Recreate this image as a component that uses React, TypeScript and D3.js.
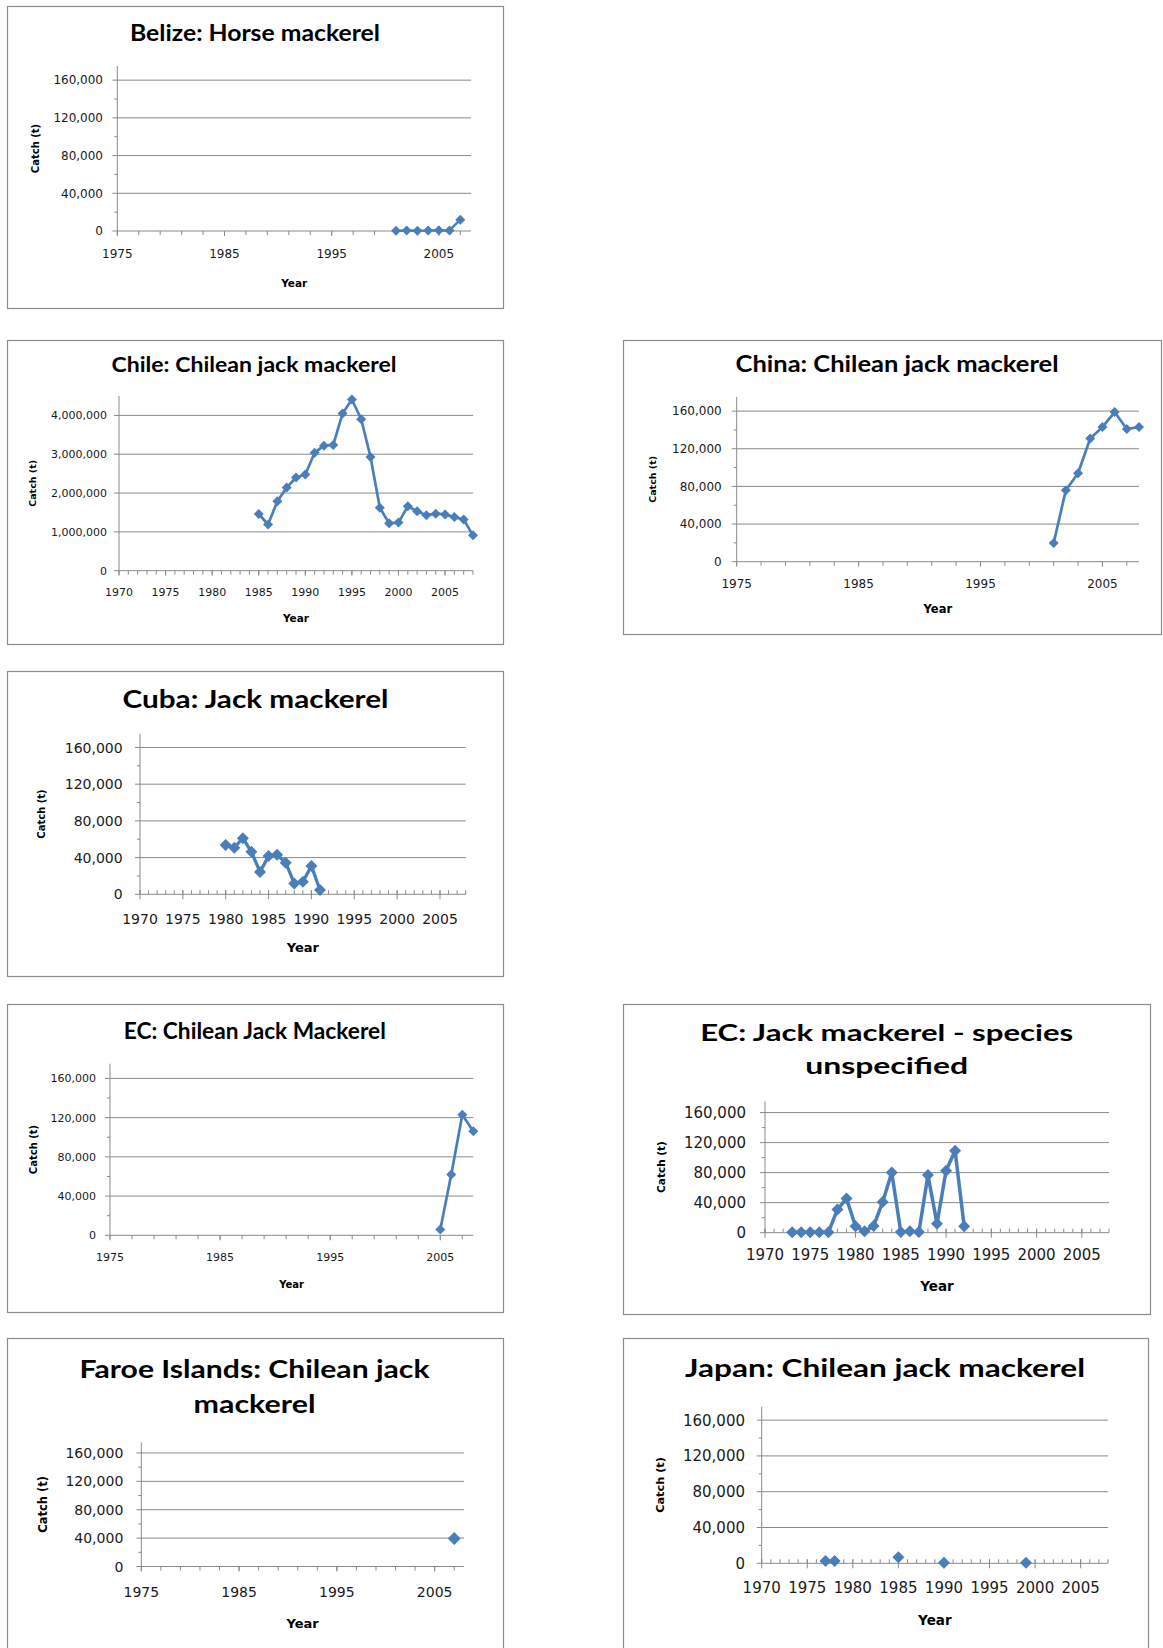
import React from 'react';
import * as d3 from 'd3';

// ---- data ----
const belizeYears = [2001, 2002, 2003, 2004, 2005, 2006, 2007];
const belizeCatch = [300, 400, 200, 400, 900, 600, 12000];

const chileYears = [1985, 1986, 1987, 1988, 1989, 1990, 1991, 1992, 1993, 1994, 1995, 1996,
  1997, 1998, 1999, 2000, 2001, 2002, 2003, 2004, 2005, 2006, 2007, 2008];
const chileCatch = [1460000, 1190000, 1790000, 2140000, 2400000, 2480000, 3040000, 3220000,
  3240000, 4050000, 4410000, 3900000, 2930000, 1620000, 1220000, 1240000, 1660000, 1530000,
  1430000, 1470000, 1450000, 1380000, 1320000, 910000];

const chinaYears = [2001, 2002, 2003, 2004, 2005, 2006, 2007, 2008];
const chinaCatch = [20000, 76000, 94000, 131000, 143000, 159000, 141000, 143000];

const cubaYears = [1980, 1981, 1982, 1983, 1984, 1985, 1986, 1987, 1988, 1989, 1990, 1991];
const cubaCatch = [53600, 50700, 61200, 46300, 24300, 41600, 43100, 34400, 11900, 13700, 30800, 4700];

const ecChileanYears = [2005, 2006, 2007, 2008];
const ecChileanCatch = [6000, 62000, 123000, 106000];

const ecUnspecYears = [1973, 1974, 1975, 1976, 1977, 1978, 1979, 1980, 1981, 1982, 1983, 1984,
  1985, 1986, 1987, 1988, 1989, 1990, 1991, 1992];
const ecUnspecCatch = [500, 500, 500, 500, 500, 30800, 45500, 8500, 1800, 8900, 41000, 80300,
  900, 1800, 900, 76700, 12000, 82500, 109200, 8500];

const faroeYears = [2007];
const faroeCatch = [39500];

const japanYears = [1977, 1978, 1985, 1990, 1999];
const japanCatch = [2600, 2600, 6700, 700, 700];

// tick values
const yTicks160k = [0, 40000, 80000, 120000, 160000];
const yTicksChile = [0, 1000000, 2000000, 3000000, 4000000];
const xTicks1975 = [1975, 1985, 1995, 2005];
const xTicks1970 = [1970, 1975, 1980, 1985, 1990, 1995, 2000, 2005];

const BLUE = '#4a7ebb';
const GRID = '#8a8a8a';
const fmt = d3.format(',');

const panels = [
  {
    key: 'belize', years: belizeYears, values: belizeCatch,
    title: ['Belize: Horse mackerel'], titleX: 255, titleBase: [41], titleSize: 22, titleW: [250],
    box: [7, 6, 503, 308], left: 117.3, right: 471, top: 66, bottom: 231,
    x0: 1975, x1: 2008, yMax: 175000, yTicks: yTicks160k, xTicks: xTicks1975, minorX: 2, minorY: 20000,
    font: 12, yLabelRight: 103, xLabelY: 254, yearY: 283, yearSize: 10.5, catchX: 35, catchSize: 10,
    tickStyle: 'out', marker: 10, lineW: 2.5,
  },
  {
    key: 'chile', years: chileYears, values: chileCatch,
    title: ['Chile: Chilean jack mackerel'], titleX: 254, titleBase: [372], titleSize: 21, titleW: [285],
    box: [7, 340, 503, 644], left: 119, right: 473, top: 396, bottom: 570.7,
    x0: 1970, x1: 2008, yMax: 4500000, yTicks: yTicksChile, xTicks: xTicks1970, minorX: 1, minorY: 0,
    font: 11, yLabelRight: 107, xLabelY: 592, yearY: 618.5, yearSize: 10.5, catchX: 33, catchSize: 9.5,
    tickStyle: 'out', marker: 10, lineW: 2.7,
  },
  {
    key: 'china', years: chinaYears, values: chinaCatch,
    title: ['China: Chilean jack mackerel'], titleX: 897, titleBase: [372], titleSize: 22, titleW: [323],
    box: [623, 340, 1161, 634], left: 736.7, right: 1139, top: 397, bottom: 561.7,
    x0: 1975, x1: 2008, yMax: 175000, yTicks: yTicks160k, xTicks: xTicks1975, minorX: 2, minorY: 20000,
    font: 12, yLabelRight: 721.7, xLabelY: 583.7, yearY: 609, yearSize: 11.5, catchX: 653, catchSize: 9.5,
    tickStyle: 'out', marker: 10, lineW: 2.7,
  },
  {
    key: 'cuba', years: cubaYears, values: cubaCatch,
    title: ['Cuba: Jack mackerel'], titleX: 255.5, titleBase: [707.7], titleSize: 24, titleW: [266],
    box: [7, 671, 503, 976], left: 140, right: 465.7, top: 733.7, bottom: 894.3,
    x0: 1970, x1: 2008, yMax: 175000, yTicks: yTicks160k, xTicks: xTicks1970, minorX: 1, minorY: 20000,
    font: 14, yLabelRight: 122.7, xLabelY: 918.7, yearY: 947, yearSize: 13, catchX: 41.7, catchSize: 10,
    tickStyle: 'in', marker: 12, lineW: 3.3,
  },
  {
    key: 'ecChilean', years: ecChileanYears, values: ecChileanCatch,
    title: ['EC: Chilean Jack Mackerel'], titleX: 254.8, titleBase: [1039], titleSize: 23, titleW: [262],
    box: [7, 1004, 503, 1312], left: 110, right: 473.3, top: 1063.7, bottom: 1235.3,
    x0: 1975, x1: 2008, yMax: 175000, yTicks: yTicks160k, xTicks: xTicks1975, minorX: 2, minorY: 20000,
    font: 11, yLabelRight: 96, xLabelY: 1257, yearY: 1284, yearSize: 10, catchX: 33.3, catchSize: 10,
    tickStyle: 'out', marker: 10, lineW: 2.7,
  },
  {
    key: 'ecUnspec', years: ecUnspecYears, values: ecUnspecCatch,
    title: ['EC: Jack mackerel - species', 'unspecified'], titleX: 886.7, titleBase: [1041.3, 1073.7],
    titleSize: 23, titleW: [373, 163],
    box: [623, 1004, 1150, 1314], left: 765, right: 1109, top: 1101.3, bottom: 1232.7,
    x0: 1970, x1: 2008, yMax: 175000, yTicks: yTicks160k, xTicks: xTicks1970, minorX: 1, minorY: 20000,
    font: 15, yLabelRight: 746, xLabelY: 1255, yearY: 1286, yearSize: 13.5, catchX: 661.7, catchSize: 10.5,
    tickStyle: 'in', marker: 12, lineW: 3.5,
  },
  {
    key: 'faroe', years: faroeYears, values: faroeCatch,
    title: ['Faroe Islands: Chilean jack', 'mackerel'], titleX: 254.5, titleBase: [1378.3, 1413.3],
    titleSize: 25.5, titleW: [350, 122],
    box: [7, 1338, 503, 1660], left: 141.3, right: 464, top: 1442.3, bottom: 1566.5,
    x0: 1975, x1: 2008, yMax: 175000, yTicks: yTicks160k, xTicks: xTicks1975, minorX: 2, minorY: 20000,
    font: 14, yLabelRight: 123.3, xLabelY: 1592, yearY: 1623, yearSize: 13, catchX: 42.7, catchSize: 11.5,
    tickStyle: 'out', marker: 13, lineW: 3,
  },
  {
    key: 'japan', years: japanYears, values: japanCatch,
    title: ['Japan: Chilean jack mackerel'], titleX: 885, titleBase: [1377.3], titleSize: 25.5, titleW: [400],
    box: [623, 1338, 1148, 1660], left: 761.7, right: 1108, top: 1406.7, bottom: 1563.3,
    x0: 1970, x1: 2008, yMax: 175000, yTicks: yTicks160k, xTicks: xTicks1970, minorX: 1, minorY: 20000,
    font: 15, yLabelRight: 745, xLabelY: 1588, yearY: 1620, yearSize: 13.5, catchX: 660, catchSize: 11.3,
    tickStyle: 'in', marker: 12, lineW: 3,
  },
];

function Panel({ p }: { p: any }) {
  const x = d3.scaleLinear().domain([p.x0, p.x1]).range([p.left, p.right]);
  const y = d3.scaleLinear().domain([0, p.yMax]).range([p.bottom, p.top]);
  const [bx0, by0, bx1, by1] = p.box;

  const minorYs = p.minorY
    ? d3.range(p.minorY, p.yMax, p.minorY).filter((v: number) => !p.yTicks.includes(v))
    : [];
  const minorXs = d3.range(p.x0, p.x1 + 0.001, p.minorX);

  // split into runs of consecutive years (gaps are not joined)
  const pts = p.years.map((yr: number, i: number) => ({ yr, v: p.values[i] }));
  const runs: any[][] = [];
  pts.forEach((d: any, i: number) => {
    if (i === 0 || d.yr - pts[i - 1].yr > 1) runs.push([d]);
    else runs[runs.length - 1].push(d);
  });
  const line = d3.line<any>().x(d => x(d.yr)).y(d => y(d.v));
  const diamond = d3.symbol().type(d3.symbolSquare).size((p.marker * p.marker) / 2)();

  const cx = (p.left + p.right) / 2;
  const cy = (p.top + p.bottom) / 2;

  return (
    <g>
      <rect x={bx0 + 0.5} y={by0 + 0.5} width={bx1 - bx0} height={by1 - by0}
        fill="#fff" stroke="#8c8c8c" strokeWidth={1.2} />
      {p.title.map((t: string, i: number) => (
        <text key={i} x={p.titleX} y={p.titleBase[i]} textAnchor="middle"
          fontFamily="Lato, 'Open Sans', sans-serif" fontWeight="bold" fontSize={p.titleSize}
          textLength={p.titleW[i]} lengthAdjust="spacingAndGlyphs" fill="#000">{t}</text>
      ))}

      {/* gridlines */}
      {p.yTicks.filter((v: number) => v > 0).map((v: number) => (
        <line key={'g' + v} x1={p.left} x2={p.right} y1={y(v)} y2={y(v)} stroke={GRID} strokeWidth={1} />
      ))}

      {/* y axis */}
      <line x1={p.left} x2={p.left} y1={p.top} y2={p.bottom} stroke={GRID} strokeWidth={1} />
      {p.yTicks.map((v: number) => (
        <g key={'yt' + v}>
          <line x1={p.left - 5} x2={p.left} y1={y(v)} y2={y(v)} stroke={GRID} />
          <text x={p.yLabelRight} y={y(v)} dy="0.36em" textAnchor="end"
            fontFamily="'DejaVu Sans', Verdana, sans-serif" fontSize={p.font} fill="#1a1a1a">{fmt(v)}</text>
        </g>
      ))}
      {minorYs.map((v: number) => (
        <line key={'ym' + v} x1={p.left - 3} x2={p.left} y1={y(v)} y2={y(v)} stroke={GRID} />
      ))}

      {/* x axis */}
      <line x1={p.left} x2={p.right} y1={p.bottom} y2={p.bottom} stroke={GRID} strokeWidth={1} />
      {minorXs.map((v: number) => (
        p.tickStyle === 'out'
          ? <line key={'xm' + v} x1={x(v)} x2={x(v)} y1={p.bottom} y2={p.bottom + 4} stroke={GRID} />
          : <line key={'xm' + v} x1={x(v)} x2={x(v)} y1={p.bottom - 4} y2={p.bottom} stroke={GRID} />
      ))}
      {p.xTicks.map((v: number) => (
        <g key={'xt' + v}>
          {p.tickStyle === 'out'
            ? <line x1={x(v)} x2={x(v)} y1={p.bottom} y2={p.bottom + 5} stroke={GRID} />
            : <line x1={x(v)} x2={x(v)} y1={p.bottom - 4} y2={p.bottom + 5} stroke={GRID} />}
          <text x={x(v)} y={p.xLabelY} dy="0.36em" textAnchor="middle"
            fontFamily="'DejaVu Sans', Verdana, sans-serif" fontSize={p.font} fill="#1a1a1a">{v}</text>
        </g>
      ))}

      {/* axis titles */}
      <text x={cx} y={p.yearY} dy="0.36em" textAnchor="middle" fontFamily="'DejaVu Sans', sans-serif"
        fontWeight="bold" fontSize={p.yearSize} fill="#000">Year</text>
      <text transform={`translate(${p.catchX},${cy}) rotate(-90)`} dy="0.36em" textAnchor="middle"
        fontFamily="'DejaVu Sans', sans-serif" fontWeight="bold" fontSize={p.catchSize} fill="#000">Catch (t)</text>

      {/* series */}
      {runs.filter(r => r.length > 1).map((r, i) => (
        <path key={'l' + i} d={line(r) || ''} fill="none" stroke={BLUE} strokeWidth={p.lineW}
          strokeLinejoin="round" />
      ))}
      {pts.map((d: any) => (
        <path key={'m' + d.yr} d={diamond || ''} fill={BLUE}
          transform={`translate(${x(d.yr)},${y(d.v)}) rotate(45)`} />
      ))}
    </g>
  );
}

export default function App() {
  return (
    <svg width={1163} height={1648} viewBox="0 0 1163 1648"
      style={{ position: 'absolute', left: 0, top: 0, background: '#fff' }}>
      <rect x={0} y={0} width={1163} height={1648} fill="#fff" />
      {panels.map(p => <Panel key={p.key} p={p} />)}
    </svg>
  );
}
